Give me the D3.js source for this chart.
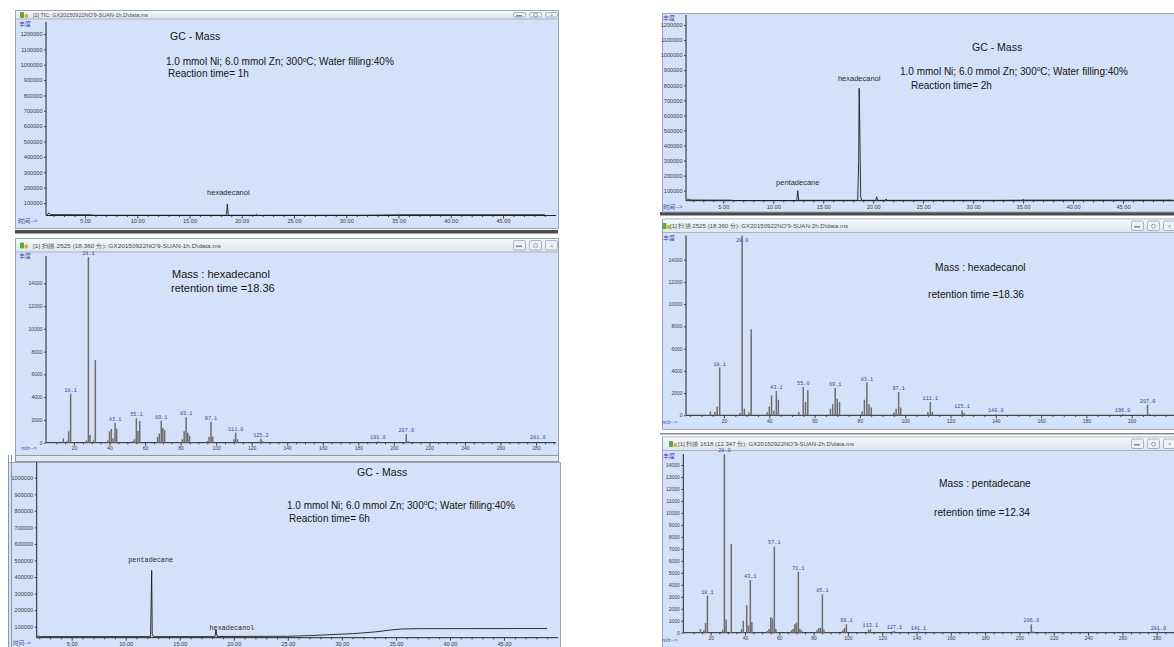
<!DOCTYPE html>
<html>
<head>
<meta charset="utf-8">
<script src="https://cdn.jsdelivr.net/npm/d3@7"></script>
<style>
  body { margin: 0; background: #ffffff; }
  svg { display: block; }
</style>
</head>
<body>
<svg id="fig" width="1174" height="647"></svg>
<script>
// ---------------- data ----------------
// Total ion chromatograms: [retention time (min), abundance]
const tic1h = [
  [1.4, 22000], [1.5, 35000], [1.7, 26000], [2.0, 24000], [5.5, 23000], [6.0, 20000],
  [18.45, 20000], [18.55, 30000], [18.62, 94000], [18.7, 25000], [18.8, 20000],
  [21.3, 20000], [21.4, 26000], [21.5, 20000], [32.0, 20500], [34.9, 23000],
  [35.0, 28000], [35.1, 23500], [49.0, 23500]
];
const tic2h = [
  [1.3, 36000], [1.45, 45000], [1.6, 40000], [1.9, 38000], [5.8, 37000], [6.0, 35000],
  [12.35, 35000], [12.45, 100000], [12.55, 36000], [18.45, 36000], [18.55, 300000],
  [18.6, 780000], [18.68, 420000], [18.75, 60000], [18.85, 36000], [20.25, 36000],
  [20.35, 60000], [20.45, 36000], [21.2, 36000], [21.3, 45000], [21.4, 36000],
  [32.0, 36000], [34.9, 37000], [35.0, 42000], [35.1, 37500], [50.0, 37500]
];
const tic6h = [
  [1.8, 38000], [1.9, 45000], [2.1, 40000], [12.3, 40000], [12.35, 240000], [12.4, 440000],
  [12.45, 60000], [12.55, 40000], [18.25, 40000], [18.35, 80000], [18.45, 41000],
  [25.0, 42000], [27.0, 46000], [29.0, 52000], [31.0, 58000], [33.0, 68000],
  [34.5, 80000], [35.5, 86000], [37.0, 88000], [49.0, 89000]
];
const gcTimeTicks = [5, 10, 15, 20, 25, 30, 35, 40, 45];
const gcAbundanceTicks = [100000, 200000, 300000, 400000, 500000, 600000, 700000, 800000, 900000, 1000000, 1100000, 1200000];
const gc6hAbundanceTicks = [100000, 200000, 300000, 400000, 500000, 600000, 700000, 800000, 900000, 1000000];
const peaks1h = [["hexadecanol", 18.62]];
const peaks2h = [["pentadecane", 12.45], ["hexadecanol", 18.6]];
const peaks6h = [["pentadecane", 12.4], ["hexadecanol", 18.35]];

// Mass spectra: m/z and abundance
const ms1hMz  = [14, 16, 17, 18.1, 27, 28.1, 29, 31, 32, 39, 40, 41, 42, 43.1, 44, 53, 54, 55.1, 56, 57,
                 67, 68, 69.1, 70, 71, 81, 82, 83.1, 84, 85, 95, 96, 97.1, 98, 110, 111.0, 112, 124, 125.2, 126,
                 191.0, 207.0, 208, 281.0];
const ms1hAbd = [385, 150, 1000, 4300, 200, 16300, 680, 200, 7260, 200, 1000, 1200, 400, 1760, 1230, 150, 300, 2140, 1030, 1900,
                 500, 800, 1930, 1300, 1100, 300, 1000, 2230, 880, 600, 150, 500, 1840, 530, 300, 880, 300, 100, 350, 150,
                 120, 760, 120, 110];
const ms1hLabels = ["18.1", "28.1", "43.1", "55.1", "69.1", "83.1", "97.1", "111.0", "125.2", "191.0", "207.0", "281.0"];

const ms2hMz  = [14, 16, 17, 18.1, 27, 28.0, 29, 31, 32, 39, 40, 41, 42, 43.1, 44, 53, 55.0, 56, 57,
                 67, 68, 69.1, 70, 71, 81, 82, 83.1, 84, 85, 95, 96, 97.1, 98, 110, 111.1, 112, 125.1, 126,
                 140.0, 196.0, 207.0, 208];
const ms2hAbd = [350, 300, 800, 4300, 200, 16200, 600, 250, 7750, 300, 800, 1800, 400, 2200, 1400, 300, 2550, 1200, 2250,
                 600, 1000, 2450, 1500, 1200, 350, 1400, 2950, 1000, 700, 250, 600, 2100, 700, 300, 1200, 300, 450, 200,
                 100, 100, 950, 100];
const ms2hLabels = ["18.1", "28.0", "43.1", "55.0", "69.1", "83.1", "97.1", "111.1", "125.1", "140.0", "196.0", "207.0"];

const msC15Mz  = [14, 16, 17, 18.1, 27, 28.0, 29, 32, 38, 39, 41, 42, 43.1, 44, 53, 54, 55, 56, 57.1, 58,
                  67, 68, 69, 70, 71.1, 72, 73, 82, 83, 84, 85.1, 86, 97, 98, 99.1, 112, 113.1, 126, 127.1,
                  141.1, 206.9, 208, 281.0];
const msC15Abd = [300, 200, 800, 3100, 250, 14900, 1100, 7400, 300, 1000, 2300, 600, 4400, 900, 150, 300, 1300, 1200, 7200, 300,
                  200, 300, 700, 850, 5100, 300, 200, 200, 400, 400, 3200, 250, 200, 400, 700, 250, 300, 100, 150,
                  100, 700, 100, 100];
const msC15Labels = ["18.1", "28.0", "43.1", "57.1", "71.1", "85.1", "99.1", "113.1", "127.1", "141.1", "206.9", "281.0"];

const msAbundanceTicks2k = [0, 2000, 4000, 6000, 8000, 10000, 12000, 14000];
const msAbundanceTicks1k = [0, 1000, 2000, 3000, 4000, 5000, 6000, 7000, 8000, 9000, 10000, 11000, 12000, 13000, 14000];
const msMzTicks280 = [20, 40, 60, 80, 100, 120, 140, 160, 180, 200, 220, 240, 260, 280];
const msMzTicks200 = [20, 40, 60, 80, 100, 120, 140, 160, 180, 200];

// ---------------- styling ----------------
const PLOT_BG = "#d4e2f9";
const SANS = "'Liberation Sans', Arial, sans-serif";
const MONO = "'Liberation Mono', 'DejaVu Sans Mono', monospace";
const CJK = "'Noto Sans CJK SC', sans-serif";
const LABEL_BLUE = "#3445a0";

const svg = d3.select("#fig");
const defs = svg.append("defs");
const grad = defs.append("linearGradient").attr("id", "tbar").attr("x1", 0).attr("y1", 0).attr("x2", 0).attr("y2", 1);
grad.append("stop").attr("offset", "0%").attr("stop-color", "#f6f8fb");
grad.append("stop").attr("offset", "100%").attr("stop-color", "#dde4ee");

// ---------------- window chrome ----------------
function drawWindow(o) {
  const w = svg.append("g");
  w.append("rect")
    .attr("x", o.x0 + 0.5).attr("y", o.y0 + 0.5)
    .attr("width", o.x1 - o.x0).attr("height", o.y1 - o.y0)
    .attr("fill", PLOT_BG).attr("stroke", "#9aa6b8").attr("stroke-width", 1);
  if (o.title) {
    w.append("rect")
      .attr("x", o.x0 + 1).attr("y", o.y0 + 1)
      .attr("width", o.x1 - o.x0 - 1).attr("height", o.barH)
      .attr("fill", "url(#tbar)");
    w.append("line")
      .attr("x1", o.x0 + 1).attr("x2", o.x1)
      .attr("y1", o.y0 + o.barH + 1).attr("y2", o.y0 + o.barH + 1)
      .attr("stroke", "#a8b3c3").attr("stroke-width", 1);
    // application icon
    const ix = o.iconX, iy = o.y0 + o.barH / 2 + 1;
    w.append("rect").attr("x", ix).attr("y", iy - 3).attr("width", 4).attr("height", 6).attr("rx", 1).attr("fill", "#58a83a");
    w.append("rect").attr("x", ix + 4.5).attr("y", iy - 1).attr("width", 3.5).attr("height", 4).attr("rx", 1).attr("fill", "#d8b530");
    w.append("text")
      .attr("x", o.titleX).attr("y", iy + 2)
      .attr("font-family", SANS).attr("font-size", 6).attr("fill", "#4a4a4a")
      .attr("textLength", o.titleW).attr("lengthAdjust", "spacingAndGlyphs")
      .text(o.title);
    // minimise / restore / close buttons
    [45, 29, 13].forEach(off => {
      w.append("rect")
        .attr("x", o.x1 - off + 0.5).attr("y", o.y0 + 2.5)
        .attr("width", 12).attr("height", o.barH - 3.5).attr("rx", 1.5)
        .attr("fill", "#eef2f7").attr("stroke", "#98a5b8").attr("stroke-width", 0.8);
    });
    w.append("rect").attr("x", o.x1 - 42).attr("y", o.y0 + o.barH / 2 + 1).attr("width", 6).attr("height", 1.6).attr("fill", "#8090a8");
    w.append("circle").attr("cx", o.x1 - 23 + 0.5).attr("cy", o.y0 + o.barH / 2 + 1.2).attr("r", 2).attr("fill", "none").attr("stroke", "#8090a8").attr("stroke-width", 0.8);
    w.append("text").attr("x", o.x1 - 7 + 0.5).attr("y", o.y0 + o.barH / 2 + 3.2).attr("text-anchor", "middle")
      .attr("font-family", SANS).attr("font-size", 6).attr("fill", "#8090a8").text("×");
  }
}

// ---------------- shared axis helpers ----------------
function calibrated(cal, lo, hi) {
  const s = d3.scaleLinear().domain([cal[0], cal[2]]).range([cal[1], cal[3]]);
  return d3.scaleLinear().domain([s.invert(lo), s.invert(hi)]).range([lo, hi]);
}

function drawAxes(p, x, y, opt) {
  const g = svg.append("g");
  // axis lines
  g.append("line").attr("x1", p.axisX).attr("x2", p.axisX).attr("y1", p.axisTop).attr("y2", p.axisY)
    .attr("stroke", "#222").attr("stroke-width", 1);
  g.append("line").attr("x1", p.axisX).attr("x2", p.axisRight).attr("y1", p.axisY).attr("y2", p.axisY)
    .attr("stroke", "#222").attr("stroke-width", 1);

  const ya = g.append("g").attr("transform", `translate(${p.axisX},0)`)
    .call(d3.axisLeft(y).tickValues(opt.yTicks).tickSize(2).tickPadding(1.5).tickFormat(d => String(d)));
  const xa = g.append("g").attr("transform", `translate(0,${p.axisY})`)
    .call(d3.axisBottom(x).tickValues(opt.xTicks).tickSize(3).tickPadding(1).tickFormat(opt.xFormat));
  const xm = g.append("g").attr("transform", `translate(0,${p.axisY})`)
    .call(d3.axisBottom(x).tickValues(opt.xMinor).tickSize(1.6).tickFormat(""));
  [ya, xa, xm].forEach(a => {
    a.select(".domain").remove();
    a.selectAll("line").attr("stroke", "#222").attr("stroke-width", 0.8);
    a.selectAll("text").attr("font-family", opt.tickFont || SANS).attr("font-size", opt.tickSize).attr("fill", "#3a3a3a");
  });
  // axis captions
  if (p.yCaption) {
    g.append("text").attr("x", p.yCaption[0]).attr("y", p.yCaption[1])
      .attr("font-family", CJK).attr("font-size", 6).attr("fill", LABEL_BLUE).text("丰度");
  }
  if (p.xCaption) {
    g.append("text").attr("x", p.xCaption[0]).attr("y", p.xCaption[1])
      .attr("font-family", opt.captionFont).attr("font-size", opt.captionSize).attr("fill", LABEL_BLUE).text(opt.captionText);
  }
}

function drawNotes(lines) {
  lines.forEach(l => {
    const t = svg.append("text").attr("x", l[0]).attr("y", l[1])
      .attr("font-family", SANS).attr("font-size", l[3]).attr("fill", "#151515");
    const parts = l[2].split("°");
    if (parts.length === 2) {
      t.append("tspan").text(parts[0]);
      t.append("tspan").attr("dy", -3.5).attr("font-size", l[3] * 0.65).text("o");
      t.append("tspan").attr("dy", 3.5).text(parts[1]);
    } else {
      t.text(l[2]);
    }
  });
}

// ---------------- chromatogram panel ----------------
function drawGC(p, trace, yTicks, peaks) {
  const x = calibrated(p.xCal, p.axisX, p.axisRight);
  const y = calibrated(p.yCal, p.axisY, p.axisTop).clamp(true);
  const minor = d3.range(Math.ceil(x.domain()[0]), Math.floor(x.domain()[1]) + 1).filter(v => v % 5 !== 0);
  drawAxes(p, x, y, {
    yTicks: yTicks, xTicks: gcTimeTicks, xMinor: minor,
    xFormat: d => d.toFixed(2), tickSize: 5.6, tickFont: SANS,
    captionFont: CJK, captionSize: p.captionSize || 6, captionText: "时间-->"
  });
  svg.append("path").datum(trace)
    .attr("d", d3.line().x(d => x(d[0])).y(d => y(d[1])))
    .attr("fill", "none").attr("stroke", "#1b1b1b").attr("stroke-width", 0.9).attr("stroke-linejoin", "miter");
  peaks.forEach((pk, i) => {
    const near = trace.filter(d => Math.abs(d[0] - pk[1]) < 0.3);
    const top = d3.max(near, d => d[1]);
    const off = p.peakLabelOffsets[i];
    svg.append("text")
      .attr("x", x(pk[1]) + off[0]).attr("y", y(top) + off[1])
      .attr("text-anchor", "middle")
      .attr("font-family", p.peakFont).attr("font-size", p.peakSize).attr("fill", "#2a2a2a")
      .text(pk[0]);
  });
}

// ---------------- mass spectrum panel ----------------
function drawMS(p, mz, abd, labels, yTicks, xTicks) {
  const x = calibrated(p.xCal, p.axisX, p.axisRight);
  const y = calibrated(p.yCal, p.axisY, p.axisTop).clamp(true);
  const minor = d3.range(5, Math.floor(x.domain()[1]) + 1, 5).filter(v => v % 20 !== 0 && x(v) > p.axisX + 2);
  drawAxes(p, x, y, {
    yTicks: yTicks, xTicks: xTicks, xMinor: minor,
    xFormat: d => String(d), tickSize: 5, tickFont: SANS,
    captionFont: SANS, captionSize: 5.5, captionText: "m/z-->"
  });
  const bars = mz.map((m, i) => ({ m: m, a: abd[i] }));
  svg.append("g").selectAll("line").data(bars).join("line")
    .attr("x1", d => x(d.m)).attr("x2", d => x(d.m))
    .attr("y1", y(0)).attr("y2", d => y(d.a))
    .attr("stroke", "#6d6d6d").attr("stroke-width", 1.5);
  labels.forEach(lb => {
    const b = bars.find(d => Math.abs(d.m - (+lb)) < 1e-6);
    const clipped = y(b.a) <= p.axisTop + 0.01;
    const ly = clipped ? p.axisTop + 6 : y(b.a) - 2;
    if (clipped) {
      svg.append("rect").attr("x", x(b.m) - 7).attr("y", ly - 4.5).attr("width", 5).attr("height", 5).attr("fill", PLOT_BG);
      svg.append("rect").attr("x", x(b.m) + 1.2).attr("y", ly - 4.5).attr("width", 4).attr("height", 5).attr("fill", PLOT_BG);
    }
    svg.append("text")
      .attr("x", x(b.m)).attr("y", ly)
      .attr("text-anchor", "middle")
      .attr("font-family", MONO).attr("font-size", 5.2).attr("fill", LABEL_BLUE)
      .text(lb);
  });
}

// ---------------- separators between stacked windows ----------------
svg.append("rect").attr("x", 15).attr("y", 230).attr("width", 543).attr("height", 3.5).attr("fill", "#4b4b4b");
svg.append("rect").attr("x", 660).attr("y", 212).attr("width", 514).attr("height", 3.5).attr("fill", "#4b4b4b");
svg.append("rect").attr("x", 660).attr("y", 433).attr("width", 514).attr("height", 1.5).attr("fill", "#8a8a8a");

// ---------------- left column ----------------
drawWindow({ x0: 15, y0: 10, x1: 558, y1: 228, barH: 8, title: "[2] TIC: GX20150922NO'9-SUAN-1h.D\\data.ms", titleX: 33, titleW: 115, iconX: 20 });
drawGC({
  axisX: 46, axisY: 215.5, axisTop: 22, axisRight: 556,
  xCal: [5, 85, 45, 503], yCal: [100000, 203, 1200000, 34],
  yCaption: [19, 26], xCaption: [18, 223],
  peakFont: SANS, peakSize: 7.5, peakLabelOffsets: [[1, -9]]
}, tic1h, gcAbundanceTicks, peaks1h);
drawNotes([
  [170, 40, "GC - Mass", 10.5],
  [166, 65, "1.0 mmol Ni; 6.0 mmol Zn; 300°C; Water filling:40%", 10],
  [168, 77, "Reaction time= 1h", 10]
]);

drawWindow({ x0: 15, y0: 238, x1: 558, y1: 455, barH: 13, title: "[1] 扫描 2525 (18.360 分): GX20150922NO'9-SUAN-1h.D\\data.ms", titleX: 33, titleW: 188, iconX: 20 });
drawMS({
  axisX: 46, axisY: 442.7, axisTop: 256, axisRight: 556,
  xCal: [20, 74, 280, 536], yCal: [0, 442.7, 14000, 283.3],
  yCaption: [19, 258], xCaption: [21, 450]
}, ms1hMz, ms1hAbd, ms1hLabels, msAbundanceTicks2k, msMzTicks280);
drawNotes([
  [172, 278, "Mass : hexadecanol", 11],
  [171, 292, "retention time =18.36", 11]
]);

// lower window (frame cut at top)
svg.append("rect").attr("x", 15.5).attr("y", 455.5).attr("width", 543).attr("height", 6).attr("fill", "#e4e9f0").attr("stroke", "#8d97a6").attr("stroke-width", 1);
drawWindow({ x0: 8, y0: 462, x1: 560, y1: 660 });
svg.append("line").attr("x1", 11.5).attr("x2", 11.5).attr("y1", 455).attr("y2", 647).attr("stroke", "#8d97a6").attr("stroke-width", 1);
svg.append("line").attr("x1", 8.5).attr("x2", 8.5).attr("y1", 455).attr("y2", 647).attr("stroke", "#8d97a6").attr("stroke-width", 1);
drawGC({
  axisX: 36.7, axisY: 637.7, axisTop: 462, axisRight: 558,
  xCal: [5, 71.7, 45, 504], yCal: [100000, 626.7, 1000000, 477.7],
  xCaption: [13, 645], captionSize: 5.5,
  peakFont: MONO, peakSize: 6.8, peakLabelOffsets: [[-1, -8], [16, 0]]
}, tic6h, gc6hAbundanceTicks, peaks6h);
drawNotes([
  [357, 475.5, "GC - Mass", 10.5],
  [287, 508.5, "1.0 mmol Ni; 6.0 mmol Zn; 300°C; Water filling:40%", 10],
  [289, 522, "Reaction time= 6h", 10]
]);

// ---------------- right column ----------------
drawWindow({ x0: 662, y0: 13, x1: 1180, y1: 211.5 });
drawGC({
  axisX: 686, axisY: 200.7, axisTop: 15, axisRight: 1174,
  xCal: [5, 723.3, 45, 1123], yCal: [100000, 190.7, 1200000, 25],
  yCaption: [663, 19.5], xCaption: [663, 209],
  peakFont: SANS, peakSize: 7.5, peakLabelOffsets: [[0, -6], [0, -7]]
}, tic2h, gcAbundanceTicks, peaks2h);
drawNotes([
  [972, 50.5, "GC - Mass", 10.5],
  [900, 74.5, "1.0 mmol Ni; 6.0 mmol Zn; 300°C; Water filling:40%", 10],
  [911, 89, "Reaction time= 2h", 10]
]);

drawWindow({ x0: 662, y0: 218.5, x1: 1176, y1: 429, barH: 13, title: "[1] 扫描 2525 (18.360 分): GX20150922NO'9-SUAN-2h.D\\data.ms", titleX: 670, titleW: 178, iconX: 662.5 });
drawMS({
  axisX: 686, axisY: 415.3, axisTop: 235.5, axisRight: 1174,
  xCal: [20, 724, 200, 1131.7], yCal: [0, 415.3, 14000, 259.7],
  yCaption: [663, 239.5], xCaption: [662, 424]
}, ms2hMz, ms2hAbd, ms2hLabels, msAbundanceTicks2k, msMzTicks200);
drawNotes([
  [935, 271, "Mass : hexadecanol", 10.2],
  [928, 297.5, "retention time =18.36", 10.2]
]);

drawWindow({ x0: 662, y0: 436.5, x1: 1176, y1: 660, barH: 13, title: "[1] 扫描 1618 (12.347 分): GX20150922NO'9-SUAN-2h.D\\data.ms", titleX: 678, titleW: 176, iconX: 669 });
drawMS({
  axisX: 683.3, axisY: 632.7, axisTop: 454, axisRight: 1174,
  xCal: [20, 710.7, 280, 1156.7], yCal: [0, 632.7, 14000, 465],
  yCaption: [663, 457.5], xCaption: [662, 642]
}, msC15Mz, msC15Abd, msC15Labels, msAbundanceTicks1k, msMzTicks280);
drawNotes([
  [939, 486.5, "Mass : pentadecane", 10.2],
  [934, 515.5, "retention time =12.34", 10.2]
]);
</script>
</body>
</html>
